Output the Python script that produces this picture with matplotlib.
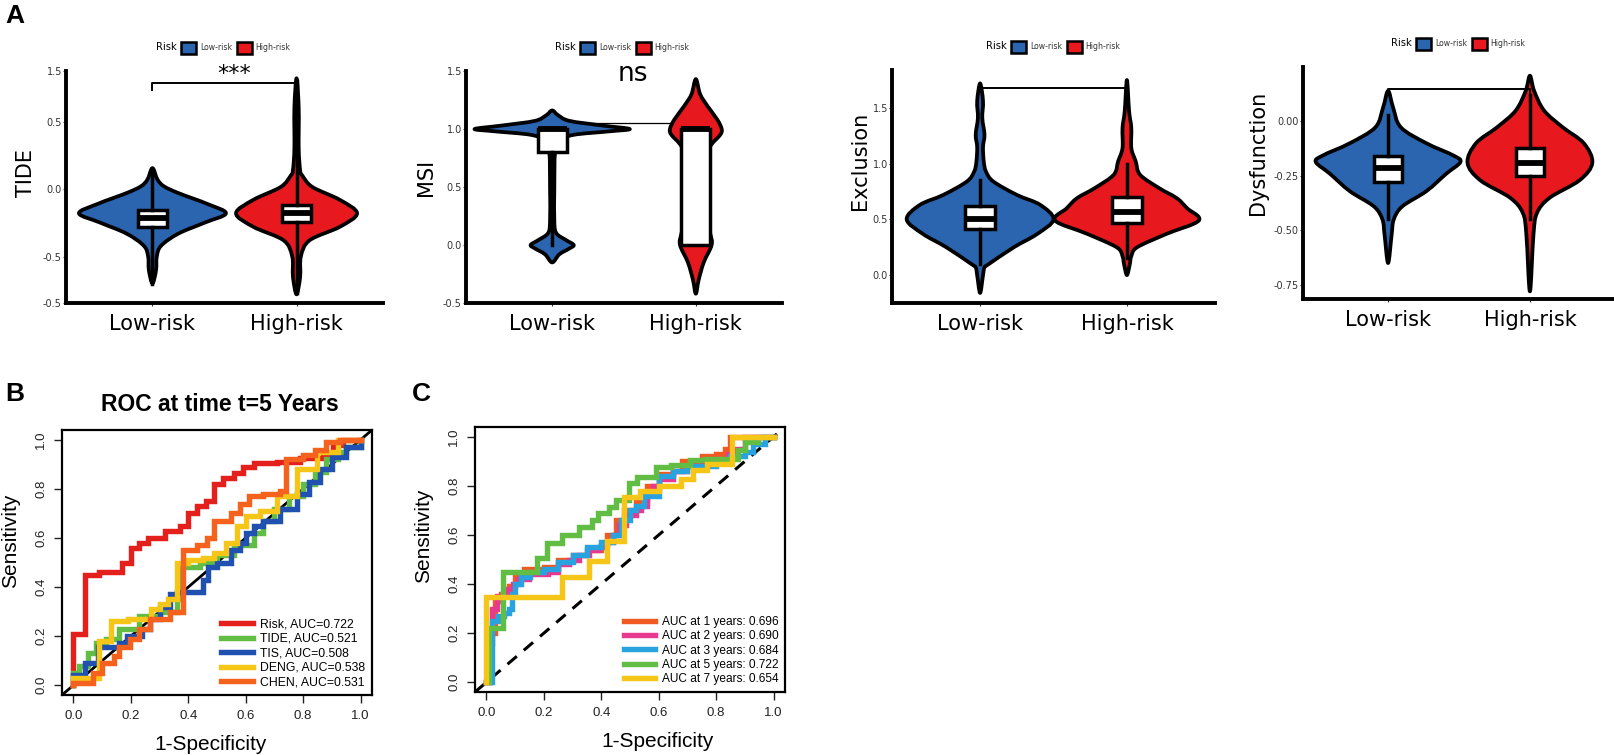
import matplotlib
matplotlib.use("Agg")
import matplotlib.pyplot as plt
from matplotlib.patches import Patch, PathPatch
from matplotlib.path import Path

W, H = 1615, 755

# ---------------- data: panel A ----------------
groups = ["Low-risk", "High-risk"]
group_colors = ["#2B65B0", "#E8191E"]

# TIDE
tide_low_y = [-0.70, -0.60, -0.50, -0.42, -0.33, -0.25, -0.18, -0.11, -0.03, 0.02, 0.07, 0.155]
tide_low_w = [0.0, 0.025, 0.03, 0.06, 0.18, 0.36, 0.51, 0.38, 0.18, 0.08, 0.035, 0.0]
tide_high_y = [-0.78, -0.65, -0.50, -0.38, -0.28, -0.18, -0.08, 0.015, 0.10, 0.14, 0.30, 0.60, 0.82]
tide_high_w = [0.0, 0.025, 0.03, 0.09, 0.30, 0.42, 0.30, 0.11, 0.04, 0.025, 0.015, 0.015, 0.0]
tide_box = [dict(med=-0.215, q1=-0.28, q3=-0.155, whislo=-0.70, whishi=0.12),
            dict(med=-0.18, q1=-0.245, q3=-0.115, whislo=-0.77, whishi=0.80)]
tide_ticks = [0.874, 0.5, 0.0, -0.5, -0.844]
tide_ticklabels = ["1.5", "0.5", "0.0", "-0.5", "-0.5"]

# MSI
msi_low_y = [-0.15, -0.08, -0.03, 0.0, 0.04, 0.10, 0.20, 0.50, 0.80, 0.90, 0.95, 0.98, 1.0, 1.03, 1.07, 1.12, 1.16]
msi_low_w = [0.0, 0.05, 0.12, 0.15, 0.10, 0.03, 0.015, 0.015, 0.02, 0.05, 0.15, 0.40, 0.54, 0.35, 0.12, 0.04, 0.0]
msi_high_y = [-0.42, -0.30, -0.15, 0.0, 0.10, 0.30, 0.50, 0.70, 0.85, 0.95, 1.0, 1.08, 1.20, 1.30, 1.43]
msi_high_w = [0.0, 0.02, 0.055, 0.11, 0.10, 0.06, 0.05, 0.06, 0.10, 0.17, 0.18, 0.15, 0.08, 0.03, 0.0]
msi_box = [dict(med=1.0, q1=0.80, q3=1.0, whislo=0.0, whishi=1.0),
           dict(med=1.0, q1=0.0, q3=1.0, whislo=0.0, whishi=1.0)]
msi_ticks = [1.5, 1.0, 0.5, 0.0, -0.5]
msi_ticklabels = ["1.5", "1.0", "0.5", "0.0", "-0.5"]

# Exclusion
exc_low_y = [-0.16, 0.0, 0.07, 0.10, 0.25, 0.37, 0.50, 0.63, 0.72, 0.84, 0.93, 1.02, 1.15, 1.26, 1.41, 1.56, 1.72]
exc_low_w = [0.0, 0.02, 0.03, 0.06, 0.23, 0.39, 0.50, 0.41, 0.25, 0.09, 0.04, 0.025, 0.02, 0.03, 0.015, 0.02, 0.0]
exc_high_y = [0.0, 0.10, 0.17, 0.25, 0.37, 0.49, 0.60, 0.69, 0.78, 0.90, 1.02, 1.14, 1.32, 1.47, 1.75]
exc_high_w = [0.0, 0.02, 0.03, 0.07, 0.27, 0.49, 0.41, 0.34, 0.22, 0.09, 0.06, 0.03, 0.03, 0.015, 0.0]
exc_box = [dict(med=0.50, q1=0.41, q3=0.62, whislo=0.10, whishi=0.85),
           dict(med=0.57, q1=0.47, q3=0.70, whislo=0.15, whishi=1.00)]
exc_ticks = [0.0, 0.5, 1.0, 1.5]
exc_ticklabels = ["0.0", "0.5", "1.0", "1.5"]

# Dysfunction
dys_low_y = [-0.65, -0.52, -0.45, -0.39, -0.32, -0.24, -0.186, -0.156, -0.10, -0.027, 0.065, 0.14]
dys_low_w = [0.0, 0.025, 0.04, 0.10, 0.27, 0.41, 0.51, 0.46, 0.27, 0.09, 0.035, 0.0]
dys_high_y = [-0.78, -0.52, -0.42, -0.35, -0.27, -0.19, -0.10, -0.026, 0.05, 0.14, 0.21]
dys_high_w = [0.0, 0.025, 0.05, 0.14, 0.35, 0.44, 0.38, 0.23, 0.10, 0.03, 0.0]
dys_box = [dict(med=-0.215, q1=-0.28, q3=-0.16, whislo=-0.45, whishi=0.03),
           dict(med=-0.19, q1=-0.25, q3=-0.12, whislo=-0.45, whishi=0.12)]
dys_ticks = [0.0, -0.25, -0.5, -0.75]
dys_ticklabels = ["0.00", "-0.25", "-0.50", "-0.75"]

# ---------------- data: panel B ----------------
roc_b_labels = ["Risk, AUC=0.722", "TIDE, AUC=0.521", "TIS, AUC=0.508",
                "DENG, AUC=0.538", "CHEN, AUC=0.531"]
roc_b_colors = ["#E3201B", "#62BD45", "#2050B0", "#F5C518", "#F4621E"]
risk_fpr = [0, 0, 0.04, 0.09, 0.17, 0.20, 0.23, 0.26, 0.32, 0.37, 0.40, 0.43, 0.46, 0.49,
            0.52, 0.56, 0.59, 0.63, 0.71, 0.79, 0.87, 0.905, 0.94, 1.0]
risk_tpr = [0, 0.21, 0.45, 0.46, 0.50, 0.56, 0.58, 0.60, 0.63, 0.65, 0.70, 0.73, 0.75, 0.82,
            0.845, 0.865, 0.89, 0.905, 0.91, 0.925, 0.94, 0.98, 1.0, 1.0]
tide_fpr = [0, 0, 0.02, 0.05, 0.08, 0.115, 0.16, 0.23, 0.30, 0.36, 0.37, 0.44, 0.50, 0.56,
            0.63, 0.66, 0.70, 0.75, 0.80, 0.84, 0.88, 0.92, 0.95, 1.0, 1.0]
tide_tpr = [0, 0.05, 0.08, 0.13, 0.17, 0.19, 0.23, 0.28, 0.30, 0.35, 0.48, 0.50, 0.53, 0.57,
            0.62, 0.67, 0.72, 0.77, 0.82, 0.87, 0.92, 0.95, 0.97, 0.98, 1.0]
tis_fpr = [0, 0, 0.04, 0.085, 0.16, 0.185, 0.24, 0.265, 0.30, 0.336, 0.36, 0.45, 0.47, 0.50,
           0.55, 0.58, 0.60, 0.63, 0.66, 0.72, 0.78, 0.82, 0.86, 0.90, 0.95, 1.0]
tis_tpr = [0, 0.04, 0.09, 0.155, 0.17, 0.20, 0.23, 0.27, 0.32, 0.37, 0.38, 0.43, 0.48, 0.50,
           0.55, 0.58, 0.62, 0.65, 0.67, 0.72, 0.78, 0.83, 0.88, 0.93, 0.97, 1.0]
deng_fpr = [0, 0, 0.09, 0.13, 0.19, 0.27, 0.30, 0.33, 0.36, 0.40, 0.45, 0.49, 0.53, 0.57,
            0.60, 0.65, 0.71, 0.78, 0.85, 0.92, 1.0]
deng_tpr = [0, 0.03, 0.18, 0.26, 0.27, 0.31, 0.33, 0.35, 0.50, 0.51, 0.52, 0.54, 0.58, 0.65,
            0.69, 0.71, 0.77, 0.88, 0.95, 1.0, 1.0]
chen_fpr = [0, 0, 0.067, 0.10, 0.14, 0.16, 0.196, 0.23, 0.265, 0.336, 0.38, 0.43, 0.465, 0.49,
            0.55, 0.58, 0.61, 0.66, 0.72, 0.74, 0.80, 0.84, 0.88, 0.93, 1.0]
chen_tpr = [0, 0.01, 0.05, 0.09, 0.12, 0.155, 0.19, 0.23, 0.27, 0.30, 0.55, 0.57, 0.60, 0.67,
            0.70, 0.74, 0.77, 0.78, 0.79, 0.92, 0.94, 0.96, 0.99, 1.0, 1.0]

# ---------------- data: panel C ----------------
roc_c_labels = ["AUC at 1 years: 0.696", "AUC at 2 years: 0.690", "AUC at 3 years: 0.684",
                "AUC at 5 years: 0.722", "AUC at 7 years: 0.654"]
roc_c_colors = ["#F05A22", "#E6398F", "#29A3DF", "#62BD45", "#F5C518"]
y1_fpr = [0, 0.01, 0.03, 0.05, 0.08, 0.10, 0.13, 0.20, 0.25, 0.30, 0.35, 0.40, 0.42, 0.45,
          0.48, 0.52, 0.56, 0.60, 0.65, 0.68, 0.75, 0.80, 0.83, 0.85, 0.85, 1.0]
y1_tpr = [0, 0.20, 0.33, 0.36, 0.39, 0.43, 0.46, 0.47, 0.50, 0.52, 0.54, 0.56, 0.60, 0.66,
          0.70, 0.74, 0.80, 0.85, 0.86, 0.90, 0.92, 0.93, 0.95, 0.97, 1.0, 1.0]
y2_fpr = [0, 0.011, 0.02, 0.037, 0.07, 0.093, 0.11, 0.147, 0.216, 0.25, 0.286, 0.322, 0.357,
          0.392, 0.415, 0.44, 0.46, 0.485, 0.52, 0.54, 0.56, 0.58, 0.60, 0.65, 0.70, 0.76,
          0.80, 0.84, 0.87, 0.90, 1.0]
y2_tpr = [0, 0.16, 0.30, 0.35, 0.38, 0.40, 0.42, 0.44, 0.45, 0.48, 0.50, 0.52, 0.54, 0.55,
          0.57, 0.60, 0.64, 0.68, 0.70, 0.72, 0.77, 0.80, 0.83, 0.86, 0.88, 0.90, 0.91, 0.93,
          0.95, 1.0, 1.0]
y3_fpr = [0, 0.02, 0.04, 0.06, 0.08, 0.09, 0.10, 0.12, 0.15, 0.20, 0.25, 0.30, 0.35, 0.40,
          0.44, 0.47, 0.50, 0.52, 0.55, 0.60, 0.65, 0.70, 0.80, 0.85, 0.90, 0.93, 0.97, 1.0]
y3_tpr = [0, 0.25, 0.27, 0.28, 0.30, 0.36, 0.40, 0.43, 0.45, 0.46, 0.49, 0.52, 0.55, 0.57,
          0.60, 0.66, 0.70, 0.72, 0.76, 0.84, 0.86, 0.88, 0.90, 0.92, 0.94, 0.97, 1.0, 1.0]
y5_fpr = [0, 0.01, 0.059, 0.176, 0.211, 0.263, 0.322, 0.368, 0.39, 0.426, 0.45, 0.497, 0.526,
          0.59, 0.643, 0.71, 0.76, 0.875, 0.90, 0.945, 1.0]
y5_tpr = [0, 0.22, 0.45, 0.505, 0.566, 0.60, 0.634, 0.66, 0.69, 0.716, 0.743, 0.81, 0.837,
          0.878, 0.887, 0.905, 0.91, 0.946, 0.98, 1.0, 1.0]
y7_fpr = [0, 0, 0.263, 0.357, 0.42, 0.479, 0.535, 0.60, 0.678, 0.72, 0.77, 0.855, 1.0]
y7_tpr = [0, 0.348, 0.43, 0.494, 0.575, 0.756, 0.78, 0.80, 0.83, 0.865, 0.89, 1.0, 1.0]

# ---------------- figure ----------------
fig = plt.figure(figsize=(W / 100, H / 100), dpi=100)
RF = "Liberation Sans"


def add_axes_px(l, r, t, b):
    return fig.add_axes([l / W, 1 - b / H, (r - l) / W, (b - t) / H])


def smooth_outline(pts):
    """Closed Catmull-Rom outline through the given vertices (drawing only)."""
    n = len(pts)
    verts = [pts[0]]
    codes = [Path.MOVETO]
    for i in range(n):
        p0, p1, p2, p3 = pts[i - 1], pts[i], pts[(i + 1) % n], pts[(i + 2) % n]
        c1 = (p1[0] + (p2[0] - p0[0]) / 6.0, p1[1] + (p2[1] - p0[1]) / 6.0)
        c2 = (p2[0] - (p3[0] - p1[0]) / 6.0, p2[1] - (p3[1] - p1[1]) / 6.0)
        verts += [c1, c2, p2]
        codes += [Path.CURVE4] * 3
    verts.append(pts[0])
    codes.append(Path.CLOSEPOLY)
    return Path(verts, codes)


def violin_panel(ax, profiles, boxes, ylim, ticks, ticklabels, ylabel, lab_dx, lab_y):
    for i, (yy, ww) in enumerate(profiles):
        c = i + 1
        right = [(c + w, y) for y, w in zip(yy, ww)]
        left = [(c - w, y) for y, w in zip(yy[1:-1][::-1], ww[1:-1][::-1])]
        patch = PathPatch(smooth_outline(right + left), facecolor=group_colors[i],
                          edgecolor="black", lw=2.7, joinstyle="round", zorder=2)
        ax.add_patch(patch)
    stats = []
    for s in boxes:
        d = dict(s)
        d["fliers"] = []
        stats.append(d)
    ax.bxp(stats, positions=[1, 2], widths=0.2, patch_artist=True, showcaps=False,
           boxprops=dict(facecolor="white", edgecolor="black", lw=2.5),
           whiskerprops=dict(color="black", lw=2.5),
           medianprops=dict(color="black", lw=4.2, solid_capstyle="butt"),
           zorder=3, manage_ticks=False)
    ax.set_xlim(0.4, 2.6)
    ax.set_ylim(*ylim)
    ax.set_xticks([1, 2])
    ax.set_xticklabels(groups, fontsize=15, family="DejaVu Sans")
    ax.set_yticks(ticks)
    ax.set_yticklabels(ticklabels, fontsize=7, color="#4D4D4D")
    for sp in ["top", "right"]:
        ax.spines[sp].set_visible(False)
    for sp in ["left", "bottom"]:
        ax.spines[sp].set_linewidth(2.8)
    ax.tick_params(axis="both", length=2, width=0.8, colors="#333333")
    ax.tick_params(axis="x", pad=6, labelcolor="black")
    ax.tick_params(axis="y", pad=1)
    ax.set_ylabel(ylabel, fontsize=15)
    bb = ax.get_position()
    ax.yaxis.set_label_coords(-lab_dx / (bb.width * W), lab_y)


def top_legend(ax, cx, cy):
    handles = [Patch(visible=False),
               Patch(facecolor=group_colors[0], edgecolor="black", lw=1.8),
               Patch(facecolor=group_colors[1], edgecolor="black", lw=1.8)]
    leg = ax.legend(handles, ["Risk"] + groups, ncol=3, loc="center",
                    bbox_to_anchor=(cx / W, 1 - cy / H), bbox_transform=fig.transFigure,
                    frameon=False, fontsize=5.6, handlelength=1.9, handleheight=1.9,
                    columnspacing=0.6, handletextpad=0.5, borderpad=0)
    leg.get_texts()[0].set_fontsize(7.2)
    for t in leg.get_texts()[1:]:
        t.set_color("#333333")


# Panel A1 TIDE
ax1 = add_axes_px(66, 383, 71, 303)
violin_panel(ax1, [(tide_low_y, tide_low_w), (tide_high_y, tide_high_w)], tide_box,
             (-0.844, 0.874), tide_ticks, tide_ticklabels, "TIDE", 30, 0.56)
ax1.plot([1, 1, 2, 2], [0.73, 0.785, 0.785, 0.78], color="black", lw=1.4, zorder=4)
ax1.text(1.57, 0.775, "***", ha="center", va="bottom", fontsize=16)
top_legend(ax1, 214, 48)

# Panel A2 MSI
ax2 = add_axes_px(466, 782, 71, 303)
violin_panel(ax2, [(msi_low_y, msi_low_w), (msi_high_y, msi_high_w)], msi_box,
             (-0.5, 1.5), msi_ticks, msi_ticklabels, "MSI", 30, 0.54)
ax2.plot([1, 2], [1.05, 1.05], color="black", lw=0.9, zorder=1)
ax2.text(1.56, 1.36, "ns", ha="center", va="bottom", fontsize=19)
top_legend(ax2, 613, 48)

# Panel A3 Exclusion
ax3 = add_axes_px(892, 1215, 70, 303)
violin_panel(ax3, [(exc_low_y, exc_low_w), (exc_high_y, exc_high_w)], exc_box,
             (-0.25, 1.84), exc_ticks, exc_ticklabels, "Exclusion", 22, 0.61)
ax3.plot([1, 1, 2, 2], [1.66, 1.68, 1.68, 1.66], color="black", lw=1.4, zorder=4)
top_legend(ax3, 1044, 47)

# Panel A4 Dysfunction
ax4 = add_axes_px(1303, 1615, 67, 299)
violin_panel(ax4, [(dys_low_y, dys_low_w), (dys_high_y, dys_high_w)], dys_box,
             (-0.815, 0.25), dys_ticks, dys_ticklabels, "Dysfunction", 35, 0.63)
ax4.plot([1, 1, 2, 2], [0.13, 0.15, 0.15, 0.13], color="black", lw=1.4, zorder=4)
top_legend(ax4, 1449, 44)


def roc_axes(ax):
    ax.set_xlim(-0.04, 1.04)
    ax.set_ylim(-0.04, 1.04)
    ticks = [0.0, 0.2, 0.4, 0.6, 0.8, 1.0]
    ax.set_xticks(ticks)
    ax.set_yticks(ticks)
    ax.set_xticklabels([f"{t:.1f}" for t in ticks], fontsize=9.5, family=RF)
    ax.set_yticklabels([f"{t:.1f}" for t in ticks], fontsize=9.5, family=RF,
                       rotation=90, va="center")
    ax.tick_params(length=5.5, width=1.0, pad=5, colors="#222222")
    for sp in ax.spines.values():
        sp.set_linewidth(1.6)


# Panel B
axb = add_axes_px(62, 372, 430, 695)
roc_axes(axb)
axb.axline((0, 0), (1, 1), color="black", lw=2.0, zorder=1)
for fpr, tpr, col, lab in zip([risk_fpr, tide_fpr, tis_fpr, deng_fpr, chen_fpr],
                              [risk_tpr, tide_tpr, tis_tpr, deng_tpr, chen_tpr],
                              roc_b_colors, roc_b_labels):
    axb.step(fpr, tpr, where="post", color=col, lw=3.9, label=lab, zorder=2,
             solid_joinstyle="miter")
axb.legend(loc="lower right", frameon=False, prop=dict(family=RF, size=8.8),
           handlelength=2.6, labelspacing=0.2, handletextpad=0.6,
           borderaxespad=0.15)
axb.set_xlabel("1-Specificity", fontsize=15, family=RF)
axb.set_ylabel("Sensitivity", fontsize=15, family=RF)
axb.xaxis.set_label_coords(0.48, -0.15)
axb.yaxis.set_label_coords(-0.135, 0.58)
axb.text(0.51, 1.095, "ROC at time t=5 Years", transform=axb.transAxes, ha="center",
         va="center", fontsize=16.5, fontweight="bold", family=RF)

# Panel C
axc = add_axes_px(475, 785, 427, 692)
roc_axes(axc)
axc.axline((0, 0), (1, 1), color="black", lw=2.2, ls=(0, (4, 3)), zorder=1)
for fpr, tpr, col, lab in zip([y1_fpr, y2_fpr, y3_fpr, y5_fpr, y7_fpr],
                              [y1_tpr, y2_tpr, y3_tpr, y5_tpr, y7_tpr],
                              roc_c_colors, roc_c_labels):
    axc.step(fpr, tpr, where="post", color=col, lw=3.9, label=lab, zorder=2,
             solid_joinstyle="miter")
axc.legend(loc="lower right", frameon=False, prop=dict(family=RF, size=8.6),
           handlelength=2.6, labelspacing=0.2, handletextpad=0.6,
           borderaxespad=0.15)
axc.set_xlabel("1-Specificity", fontsize=15, family=RF)
axc.set_ylabel("Sensitivity", fontsize=15, family=RF)
axc.xaxis.set_label_coords(0.59, -0.15)
axc.yaxis.set_label_coords(-0.135, 0.59)

# panel letters
fig.text(5 / W, 1 - 16 / H, "A", fontsize=19, fontweight="bold", family=RF, va="center")
fig.text(5 / W, 1 - 394 / H, "B", fontsize=19, fontweight="bold", family=RF, va="center")
fig.text(412 / W, 1 - 394 / H, "C", fontsize=19, fontweight="bold", family=RF, va="center")

fig.savefig("out.png", dpi=100)
